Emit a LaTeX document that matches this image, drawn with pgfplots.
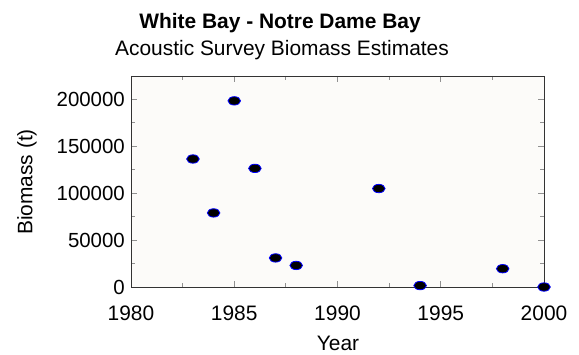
\documentclass[border=0pt]{standalone}
\usepackage{pgfplots}
\pgfplotsset{compat=1.18}
\usepackage{fontspec}
\setmainfont{Liberation Sans}
\definecolor{bgc}{HTML}{FCFBF9}
\definecolor{tickc}{HTML}{909090}
\begin{document}
\begin{tikzpicture}[x=1bp,y=1bp]
\path (0,0) rectangle (579,354);
\begin{axis}[
  at={(131bp,67bp)}, anchor=south west,
  scale only axis, width=413bp, height=211bp,
  xmin=1980, xmax=2000, ymin=0, ymax=225000,
  xtick={1980,1985,1990,1995,2000},
  minor xtick={1982.5,1987.5,1992.5,1997.5},
  ytick={0,50000,100000,150000,200000},
  minor ytick={25000,75000,125000,175000},
  scaled y ticks=false,
  /pgf/number format/assume math mode=true,
  /pgf/number format/fixed,
  /pgf/number format/precision=0,
  /pgf/number format/1000 sep={},
  xticklabel style={font=\fontsize{21}{24}\selectfont, anchor=base, yshift=-33bp},
  yticklabel style={font=\fontsize{20.5}{24}\selectfont, anchor=east, inner sep=0pt, xshift=-6bp},
  tick align=inside,
  major tick length=6bp, minor tick length=4bp,
  tick style={tickc, line width=0.8pt},
  axis line style={black!80, line width=0.8pt},
  axis background/.style={fill=bgc},
  clip=false,
]
\addplot[only marks, mark=*, mark size=4.2bp, mark options={xscale=1.5, fill=black, draw=blue, line width=0.8pt}]
coordinates {
(1983,136500) (1984,79000) (1985,198500) (1986,126500) (1987,31000)
(1988,23000) (1992,105000) (1994,1500) (1998,19500) (2000,0)
};
\end{axis}
\node[font=\bfseries\fontsize{21}{24}\selectfont, anchor=base] at (280,326) {White Bay - Notre Dame Bay};
\node[font=\fontsize{21}{24}\selectfont, anchor=base] at (282,299) {Acoustic Survey Biomass Estimates};
\node[font=\fontsize{21}{24}\selectfont, anchor=base] at (338,4) {Year};
\node[font=\fontsize{21}{24}\selectfont, rotate=90, anchor=center] at (27,172) {Biomass (t)};
\end{tikzpicture}
\end{document}
